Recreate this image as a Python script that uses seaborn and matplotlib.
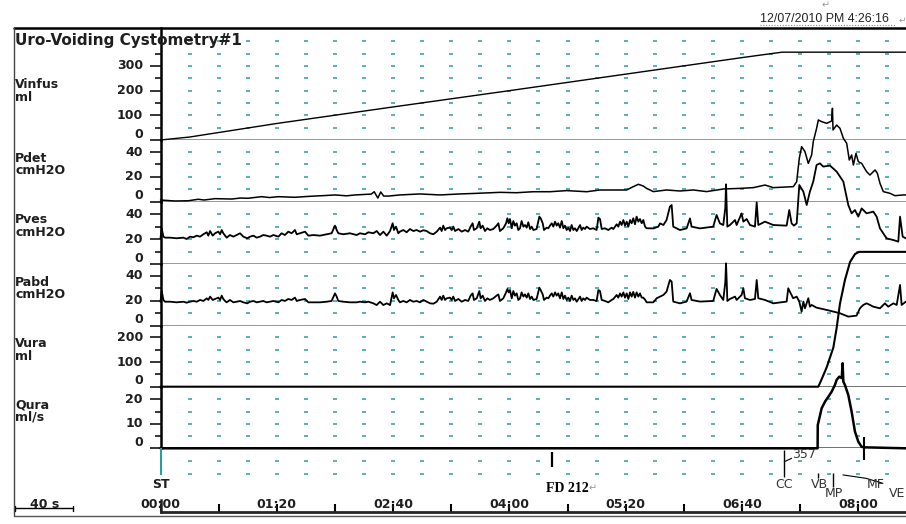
import matplotlib
matplotlib.use("Agg")
import matplotlib.pyplot as plt
from matplotlib.lines import Line2D
import pandas as pd
import seaborn as sns

# ---------------- data ----------------
# time in seconds
vinfus = [(0, 0), (20, 12), (80, 67), (160, 134), (240, 200), (320, 267),
          (400, 334), (427.5, 356), (512.8, 356)]

pdet = [(0, 1.2), (10, 0.4), (19, 0.6), (26, 1.8), (30, 1.2), (37.5, 2.3), (49, 2.0), (55, 2.8),
        (60, 2.6), (69.6, 3.9), (75, 3.2), (81, 3.9), (92.5, 3.4), (100, 4.0), (106, 4.4),
        (113, 4.8), (120, 5.3), (128, 4.6), (134, 5.3), (145, 6.0), (147, 7.9), (149.5, 2.8),
        (151.5, 7.7), (153.5, 4.4), (157, 4.4), (164.7, 5.3), (178.5, 6.1), (192.2, 5.3),
        (206, 6.1), (217.4, 6.6), (233.5, 7.4), (244.9, 7.1), (256.4, 7.9), (267.9, 7.9),
        (279.4, 8.8), (293.1, 7.9), (302.3, 9.3), (311.5, 9.3), (320.6, 9.3), (325.2, 12.0),
        (328.7, 13.9), (332.1, 12.5), (334.4, 10.6), (339, 8.0), (348.1, 9.3), (357.3, 8.5),
        (366.5, 9.3), (375.7, 8.0), (387.1, 10.1), (398.6, 10.6), (407.8, 11.2), (415.8, 13.3),
        (421.5, 11.2), (435.3, 12.0), (437.6, 16.0), (439.4, 34.9), (441, 44.3), (443.3, 40.3),
        (445.6, 30.8), (447.9, 37.6), (449, 48.3), (451.3, 59.1), (452.5, 65.9), (454.8, 64.5),
        (458.2, 63.2), (461.6, 65.0), (462.2, 75.3), (462.6, 57.8), (465.1, 61.8), (467.4, 59.1),
        (469.7, 51.1), (472, 47.0), (473.8, 33.5), (475.4, 37.6), (476.6, 29.5), (478.4, 38.9),
        (480, 32.2), (482.3, 30.8), (485.7, 24.1), (488, 21.4), (491.5, 25.5), (493.1, 22.8),
        (494.9, 14.7), (497.2, 8.0), (501.8, 6.6), (505.2, 4.7), (511, 5.3), (512.8, 5.3)]

pves = [(0, 20.8), (0.8, 28.8), (2.0, 22.1), (3.1, 21.3), (6.5, 21.3), (11.1, 20.8), (15.7, 21.3),
        (18.0, 20.2), (20.3, 22.1), (22.6, 21.6), (24.9, 22.9), (27.2, 22.1), (29.5, 24.0),
        (31.8, 25.6), (32.9, 22.9), (34.1, 26.6), (35.9, 22.9), (37.5, 24.8), (39.8, 26.1),
        (41.0, 24.0), (42.1, 27.4), (43.2, 24.8), (44.4, 22.9), (45.5, 21.3), (47.8, 23.4),
        (50.1, 22.1), (52.4, 23.4), (54.7, 24.8), (57.0, 22.1), (59.7, 20.8), (61.6, 22.1),
        (63.9, 22.9), (66.2, 21.3), (68.4, 22.1), (70.7, 23.4), (73.0, 22.9), (75.3, 22.1),
        (77.6, 23.4), (81.1, 22.1), (83.3, 24.8), (85.6, 23.4), (87.9, 26.1), (90.2, 24.8),
        (92.5, 27.4), (93.7, 24.0), (96.0, 24.8), (99.4, 26.1), (101.7, 22.9), (105.1, 23.4),
        (109.7, 22.9), (114.3, 24.0), (117.7, 24.8), (120.0, 30.9), (121.2, 27.4), (122.3, 24.8),
        (125.8, 24.0), (130.3, 24.8), (134.9, 23.4), (137.2, 24.8), (140.7, 24.0), (143.0, 25.6),
        (146.4, 24.8), (148.7, 26.6), (151.0, 23.4), (153.3, 26.1), (155.6, 22.9), (157.9, 26.6),
        (159.7, 32.8), (160.6, 27.4), (162.0, 30.1), (163.6, 24.8),
        (164.7, 26.1), (167.0, 27.4), (169.3, 25.6), (171.6, 28.2), (173.9, 26.6), (176.2, 27.4),
        (178.5, 26.1), (180.8, 27.2), (183.1, 26.6), (185.4, 24.8), (187.7, 24.0), (190.0, 26.1),
        (192.3, 29.3), (193.4, 26.6), (194.5, 30.9), (195.7, 27.4), (196.8, 28.8), (199.1, 29.3),
        (200.3, 27.4), (201.4, 30.1), (202.6, 26.6), (204.9, 28.2), (207.2, 26.1), (209.5, 27.4),
        (211.7, 26.1), (213.3, 30.1), (214.7, 32.8), (215.6, 27.4), (217.5, 28.8), (219.3, 34.1),
        (220.2, 28.8), (221.6, 30.9), (223.2, 26.6), (224.8, 28.8), (226.6, 27.4), (228.9, 28.2),
        (231.2, 30.9), (232.4, 32.8), (233.5, 26.6), (235.8, 28.8), (237.7, 32.8), (238.6, 36.8),
        (239.5, 32.8), (240.4, 36.2), (241.6, 28.8), (242.7, 34.6), (243.8, 30.9), (245.0, 32.8),
        (246.1, 27.4), (247.3, 28.8), (248.4, 34.6), (249.6, 30.1), (250.7, 31.4), (251.9, 29.3),
        (253.0, 33.6), (254.2, 28.2), (255.3, 30.1), (256.5, 27.4), (258.7, 28.2), (260.6, 38.1),
        (261.5, 36.8), (262.9, 32.8), (263.8, 27.4), (265.6, 29.3), (266.8, 28.8), (267.9, 30.9),
        (269.1, 32.8), (270.2, 30.1), (271.4, 34.1), (272.5, 30.9), (273.6, 32.8), (274.8, 29.3),
        (276.0, 34.6), (277.1, 28.8), (278.2, 30.9), (279.4, 27.4), (280.5, 29.3), (281.7, 26.6),
        (282.8, 31.4), (284.0, 27.4), (285.1, 28.8), (286.3, 26.6), (288.6, 31.4), (289.7, 27.4),
        (290.8, 29.3), (292.0, 28.2), (293.1, 30.1), (295.4, 28.2), (297.7, 28.8), (300.0, 27.4),
        (301.2, 37.3), (302.3, 36.2), (303.5, 28.2), (305.8, 28.8), (308.0, 27.4), (310.3, 29.3),
        (311.5, 28.2), (313.8, 32.0), (314.9, 30.1), (316.1, 34.1), (317.2, 31.4), (318.4, 35.4),
        (319.5, 30.9), (320.7, 34.1), (321.8, 30.1), (323.0, 35.4), (324.1, 32.8), (325.2, 36.8),
        (326.4, 32.0), (327.5, 38.1), (328.7, 34.1), (329.8, 36.2), (331.0, 32.8), (332.1, 35.4),
        (333.3, 30.1), (334.4, 28.8),
        (339, 28.7), (342.4, 30.1), (343.6, 32.7), (345.9, 31.4), (348.1, 35.4), (350.4, 46.1),
        (351.6, 47.4), (352.7, 30.1), (357.3, 27.4), (361.9, 28.7), (364.2, 36.7), (365.3, 30.1),
        (371.1, 28.7), (380.2, 30.1), (382.5, 39.4), (384.8, 32.7), (387.1, 31.4), (388.5, 45.0),
        (389, 63.9), (389.5, 45.0), (389.9, 30.1), (391.7, 31.4), (395.2, 35.4), (396.3, 31.4),
        (399.7, 40.7), (400.9, 34.1), (403.2, 36.2), (405.5, 31.4), (408.9, 30.1), (410.1, 49.5),
        (411.2, 31.4), (415.8, 34.1), (421.5, 31.4), (430.7, 30.9), (432.5, 43.4), (434.1, 32.7),
        (435.7, 30.9), (437.6, 32.7), (439.4, 63.4), (442.2, 58.1), (444.5, 47.4), (446.7, 58.1),
        (449, 66.1), (451.3, 79.4), (453.6, 80.7), (455.9, 78.1), (460.5, 78.9), (465.1, 74.1),
        (469.7, 66.1), (473.1, 47.4), (475.4, 40.7), (477.7, 43.4), (480, 38.1), (482.3, 44.7),
        (485.7, 40.7), (490.3, 42.1), (492.6, 38.1), (494.9, 28.7), (499.5, 20.7), (504.1, 19.4),
        (507.5, 18.1), (508.7, 38.1), (510.5, 22.1), (512.8, 20.7)]

pabd = [(0, 19.3), (0.8, 27.9), (2.0, 20.7), (3.1, 19.3), (6.5, 19.3), (11.1, 18.8), (15.7, 19.3),
        (18.0, 18.5), (20.3, 19.3), (22.6, 19.9), (24.9, 19.3), (27.2, 20.7), (29.5, 19.9),
        (31.8, 22.0), (32.9, 20.7), (34.1, 23.4), (35.9, 20.7), (37.5, 21.5), (39.8, 22.6),
        (41.0, 20.7), (42.1, 24.2), (43.2, 21.5), (44.4, 19.9), (45.5, 18.8), (47.8, 20.7),
        (50.1, 18.8), (52.4, 19.3), (54.7, 19.9), (57.0, 18.8), (59.7, 18.0), (61.6, 19.3),
        (63.9, 19.9), (66.2, 18.8), (68.4, 19.3), (70.7, 19.9), (73.0, 18.8), (75.3, 19.3),
        (77.6, 19.9), (81.1, 18.8), (83.3, 20.7), (85.6, 19.9), (87.9, 21.5), (90.2, 20.7),
        (92.5, 22.6), (93.7, 19.9), (96.0, 20.7), (99.4, 21.5), (101.7, 18.8), (105.1, 18.8),
        (109.7, 18.8), (114.3, 19.3), (117.7, 19.9), (120.0, 26.0), (121.2, 23.4), (122.3, 19.9),
        (125.8, 19.3), (130.3, 18.8), (134.9, 18.8), (137.2, 19.3), (140.7, 18.8), (143.0, 19.3),
        (146.4, 18.0), (148.7, 16.6), (151.0, 19.3), (153.3, 16.6), (155.6, 18.0), (157.9, 16.6),
        (159.7, 26.8), (160.6, 22.0), (162.0, 24.7), (163.6, 20.7),
        (164.7, 18.8), (167.0, 19.9), (169.3, 18.8), (171.6, 20.7), (173.9, 19.3), (176.2, 19.9),
        (178.5, 18.8), (180.8, 20.7), (183.1, 19.3), (185.4, 18.0), (187.7, 17.7), (190.0, 19.3),
        (192.3, 23.4), (193.4, 20.7), (194.5, 24.2), (195.7, 20.7), (196.8, 22.0), (199.1, 22.6),
        (200.3, 20.7), (201.4, 23.4), (202.6, 19.9), (204.9, 21.5), (207.2, 19.3), (209.5, 20.7),
        (211.7, 19.9), (213.3, 24.2), (214.7, 26.0), (215.6, 20.7), (217.5, 22.0), (219.3, 27.9),
        (220.2, 22.0), (221.6, 24.2), (223.2, 19.9), (224.8, 22.0), (226.6, 20.7), (228.9, 22.0),
        (231.2, 24.2), (232.4, 25.2), (233.5, 19.9), (235.8, 22.0), (237.7, 26.8), (238.6, 29.5),
        (239.5, 26.8), (240.4, 28.7), (241.6, 22.0), (242.7, 27.9), (243.8, 24.2), (245.0, 26.0),
        (246.1, 20.7), (247.3, 22.0), (248.4, 26.8), (249.6, 23.4), (250.7, 25.2), (251.9, 22.6),
        (253.0, 26.0), (254.2, 21.5), (255.3, 23.4), (256.5, 20.7), (258.7, 21.5), (260.6, 30.6),
        (261.5, 28.7), (262.9, 25.2), (263.8, 20.7), (265.6, 22.6), (266.8, 22.0), (267.9, 24.2),
        (269.1, 26.0), (270.2, 23.4), (271.4, 26.8), (272.5, 24.2), (273.6, 26.0), (274.8, 22.0),
        (276.0, 26.8), (277.1, 21.5), (278.2, 24.2), (279.4, 20.7), (280.5, 22.6), (281.7, 19.9),
        (282.8, 24.2), (284.0, 20.7), (285.1, 22.0), (286.3, 19.3), (288.6, 23.4), (289.7, 19.9),
        (290.8, 22.0), (292.0, 20.7), (293.1, 22.6), (295.4, 20.7), (297.7, 20.7), (300.0, 19.9),
        (301.2, 28.7), (302.3, 27.9), (303.5, 20.7), (305.8, 19.9), (308.0, 18.8), (310.3, 20.7),
        (311.5, 21.5), (313.8, 24.7), (314.9, 22.6), (316.1, 26.0), (317.2, 23.4), (318.4, 26.8),
        (319.5, 22.6), (320.7, 26.0), (321.8, 21.5), (323.0, 26.8), (324.1, 23.4), (325.2, 27.2),
        (326.4, 22.6), (327.5, 26.8), (328.7, 23.4), (329.8, 26.0), (331.0, 22.6), (332.1, 22.6),
        (333.3, 21.0), (334.4, 18.8),
        (339, 18.8), (341.3, 22.1), (343.6, 23.4), (345.9, 24.7), (348.1, 27.4), (350.4, 36.8),
        (351.6, 35.5), (352.7, 19.4), (357.3, 18.0), (361.9, 19.4), (364.2, 26.1), (365.3, 20.7),
        (371.1, 19.4), (380.2, 19.9), (382.5, 29.6), (384.8, 24.7), (387.1, 20.7), (388.5, 35.0),
        (389, 50.2), (389.5, 35.0), (389.9, 19.9), (391.7, 21.5), (395.2, 23.4), (396.3, 20.7),
        (399.7, 24.7), (400.9, 30.1), (402, 22.1), (405.5, 20.7), (408.9, 21.5), (410.1, 36.8),
        (411.2, 22.1), (415.8, 20.7), (421.5, 18.0), (430.7, 19.4), (431.8, 30.1), (432.9, 27.4),
        (435.2, 22.1), (437.6, 23.4), (439.4, 19.4), (441, 11.3), (442.2, 19.4), (443.3, 14.0),
        (445.6, 22.1), (446.7, 15.3), (447.9, 16.7), (451.3, 14.5), (458.2, 12.7), (467.4, 10.0),
        (473.1, 7.3), (478.8, 8.1), (481.1, 14.0), (483.4, 16.7), (485.7, 18.0), (488, 16.7),
        (490.3, 15.3), (494.9, 14.0), (498.3, 18.0), (500.6, 15.3), (504.1, 18.0), (506.4, 16.7),
        (508.7, 32.8), (509.8, 16.7), (512.8, 19.4)]

vura = [(0, 0), (452.5, 0), (455.5, 40), (458.2, 78), (460.5, 118), (462.8, 158), (465.1, 238),
        (467.4, 337), (470.8, 432), (474.3, 505), (477.7, 537), (480.5, 546), (512.8, 546)]

qura = [(0, 0), (452.0, 0), (452.1, 9.5), (454.8, 16.4), (457.1, 19.1), (459.4, 21.1), (461.7, 23.2),
        (463.9, 25.9), (465.1, 28.0), (466.9, 29.3), (468.6, 28.7), (469.2, 34.8), (469.7, 27.3),
        (470.8, 25.9), (473.1, 21.8), (475.4, 15.0), (477.7, 6.8), (480.0, 2.7), (482.3, 0.6),
        (483.9, 0.4), (512.8, 0)]

event_names = ["ST", "FD 212", "CC", "VB", "MP", "MF", "VE"]
event_times = [0, 269.1, 429.1, 452.3, 462.4, 469.4, 483.9]
cc_volume = "357"

time_ticks = list(range(0, 481, 40))
time_labels_at = list(range(0, 481, 80))
title = "Uro-Voiding Cystometry#1"
date_text = "12/07/2010 PM 4:26:16"

# ---------------- styling ----------------
T_END = 512.8
TEAL = "#2f9b9b"
GREY = "#4a4a4a"
INK = "#1e1e1e"

sns.set_style("white")
plt.rcParams["font.family"] = ["DejaVu Sans"]

W, H = 906, 524
fig = plt.figure(figsize=(W / 100, H / 100), dpi=100)
fig.patch.set_facecolor("white")


def fx(px):
    return px / W


def fy(py):
    return 1 - py / H


LEFT_PX = 160.5

channels = [
    dict(name="Vinfus", unit="ml", data=vinfus, top=28, bottom=140, ymax=454,
         major=[0, 100, 200, 300], minor=[50, 150, 250, 350],
         dots=[50, 100, 150, 200, 250, 300, 350, 400], base=TEAL, lw=1.0, ly=91),
    dict(name="Pdet", unit="cmH2O", data=pdet, top=140, bottom=201.5, ymax=49.7,
         major=[0, 20, 40], minor=[10, 30], dots=[10, 20, 30, 40], base=TEAL, lw=1.1, ly=164.3),
    dict(name="Pves", unit="cmH2O", data=pves, top=201.5, bottom=264.3, ymax=50.2,
         major=[0, 20, 40], minor=[10, 30], dots=[10, 20, 30, 40], base=TEAL, lw=1.3, ly=226),
    dict(name="Pabd", unit="cmH2O", data=pabd, top=264.3, bottom=325.7, ymax=49.4,
         major=[0, 20, 40], minor=[10, 30], dots=[10, 20, 30, 40], base=TEAL, lw=1.3, ly=288.5),
    dict(name="Vura", unit="ml", data=vura, top=325.7, bottom=386.7, ymax=247,
         major=[0, 100, 200], minor=[50, 150], dots=[50, 100, 150, 200], base=GREY, lw=1.5,
         ly=350),
    dict(name="Qura", unit="ml/s", data=qura, top=386.7, bottom=448.3, ymax=25.2,
         major=[0, 10, 20], minor=[5, 15], dots=[5, 10, 15, 20], base=GREY, lw=1.8, ly=411.2),
]

dot_times = list(range(20, 501, 20))
lab_kw = dict(fontsize=9, fontweight="bold", color=INK)

for ch in channels:
    ax = fig.add_axes([fx(LEFT_PX), fy(ch["bottom"]), fx(W) - fx(LEFT_PX),
                       fy(ch["top"]) - fy(ch["bottom"])])
    ax.patch.set_visible(False)
    ax.set_xlim(0, T_END)
    ax.set_ylim(0, ch["ymax"])
    for s in ["top", "right", "bottom"]:
        ax.spines[s].set_visible(False)
    ax.spines["left"].set_linewidth(1.8)
    ax.spines["left"].set_color("black")
    ax.set_xticks([])
    ax.set_yticks(ch["major"])
    ax.set_yticks(ch["minor"], minor=True)
    ax.tick_params(axis="y", which="major", length=8, width=1.1, color="black",
                   direction="out", labelleft=False, left=True)
    ax.tick_params(axis="y", which="minor", length=4, width=1.1, color="black",
                   direction="out", left=True)
    ax.axhline(0, color=ch["base"], lw=1.1, zorder=1)
    gx = [t for t in dot_times for _ in ch["dots"]]
    gy = [v for _ in dot_times for v in ch["dots"]]
    ax.scatter(gx, gy, marker="_", s=5, color=TEAL, linewidths=1.1, zorder=1.5)
    df = pd.DataFrame(ch["data"], columns=["t", "v"])
    sns.lineplot(data=df, x="t", y="v", ax=ax, color="black", lw=ch["lw"],
                 estimator=None, sort=False, legend=False, zorder=3)
    ax.lines[-1].set_clip_on(False)
    ax.set_xlabel("")
    ax.set_ylabel("")
    for v in ch["major"]:
        ax.annotate(str(v), xy=(0, v), xycoords=ax.get_yaxis_transform(),
                    xytext=(-17.5, 6 if v == 0 else 0), textcoords="offset pixels",
                    ha="right", va="center", annotation_clip=False, **lab_kw)
    fig.text(fx(15), fy(ch["ly"]), ch["name"] + "\n" + ch["unit"], ha="left", va="center",
             linespacing=0.95, **lab_kw)

# ---------------- event / time axis ----------------
axe = fig.add_axes([fx(LEFT_PX), fy(511.7), fx(W) - fx(LEFT_PX), fy(448.3) - fy(511.7)])
axe.patch.set_visible(False)
axe.set_xlim(0, T_END)
axe.set_ylim(-5, 0)
for s in ["top", "right"]:
    axe.spines[s].set_visible(False)
axe.spines["bottom"].set_linewidth(2.0)
axe.spines["left"].set_linewidth(1.8)
axe.spines["left"].set_bounds(-5, -4.08)
axe.set_yticks([])
axe.set_xticks(time_ticks)
axe.tick_params(axis="x", direction="in", length=6, width=1.5, color="black",
                labelbottom=False, bottom=True)
gx = [t for t in dot_times for _ in (1, 2)]
gy = [-v for _ in dot_times for v in (1, 2)]
axe.scatter(gx, gy, marker="_", s=5, color=TEAL, linewidths=1.1, zorder=1.5)
for t in time_labels_at:
    axe.text(t, -4.42, f"{t // 60:02d}:{t % 60:02d}", ha="center", va="center",
             fontsize=9, fontweight="bold", color=INK)

ev = dict(zip(event_names, event_times))
ev_font = dict(fontsize=9, color="#333333")
# ST
axe.vlines(ev["ST"], -2.1, 0, color=TEAL, lw=1.5, clip_on=False)
axe.text(ev["ST"], -2.82, "ST", ha="center", va="center", fontsize=9, fontweight="bold",
         color=INK)
# FD 212
axe.vlines(ev["FD 212"], -1.45, -0.27, color="black", lw=1.6)
axe.text(ev["FD 212"] - 4, -3.15, "FD 212", ha="left", va="center", fontsize=10,
         fontweight="bold", family=["Liberation Serif", "DejaVu Serif"], color="black")
axe.text(ev["FD 212"] + 25.5, -3.15, "\u21b5", ha="left", va="center", fontsize=7,
         color="#999999")
# CC + infused volume
axe.vlines(ev["CC"], -2.24, -0.13, color="black", lw=1.0)
axe.plot([ev["CC"], ev["CC"] + 5], [-1.06, -0.79], color="black", lw=0.8)
axe.text(ev["CC"] + 5.5, -0.45, cc_volume, ha="left", va="center", **ev_font)
axe.text(ev["CC"], -2.82, "CC", ha="center", va="center", **ev_font)
# VB
axe.vlines(ev["VB"], -2.37, -1.97, color="black", lw=1.0)
axe.text(ev["VB"] + 1.3, -2.82, "VB", ha="center", va="center", **ev_font)
# MP
axe.vlines(ev["MP"], -3.03, -1.95, color="black", lw=1.0)
axe.text(ev["MP"] + 0.7, -3.55, "MP", ha="center", va="center", **ev_font)
# MF (leader to label)
axe.plot([ev["MF"], ev["MF"] + 16, ev["MF"] + 27.5], [-2.10, -2.37, -2.76], color="black",
         lw=0.8)
axe.text(ev["MF"] + 22.3, -2.82, "MF", ha="center", va="center", **ev_font)
# VE
axe.vlines(ev["VE"], -0.92, 0.91, color="black", lw=1.5, clip_on=False)
axe.text(ev["VE"] + 22.7, -3.55, "VE", ha="center", va="center", clip_on=False, **ev_font)

# 40 s scale bar (left of the time axis, in time units)
SCALE_S = 40
sb0 = -100
axe.plot([sb0, sb0 + SCALE_S], [-4.73, -4.73], color="black", lw=1.0, clip_on=False)
axe.plot([sb0, sb0], [-4.55, -4.95], color="black", lw=1.0, clip_on=False)
axe.plot([sb0 + SCALE_S, sb0 + SCALE_S], [-4.55, -4.95], color="black", lw=1.0, clip_on=False)
axe.text(sb0 + SCALE_S / 2, -4.42, f"{SCALE_S} s", ha="center", va="center", clip_on=False,
         fontsize=9, fontweight="bold", color=INK)

# ---------------- frame, title, header ----------------
fig.add_artist(Line2D([fx(14), 1], [fy(28), fy(28)], transform=fig.transFigure,
                      color="black", lw=1.8))
fig.add_artist(Line2D([fx(14), fx(14)], [fy(28), fy(516)], transform=fig.transFigure,
                      color="#444444", lw=1.0))
fig.add_artist(Line2D([fx(14), 1], [fy(516), fy(516)], transform=fig.transFigure,
                      color="#555555", lw=1.0))
fig.text(fx(15), fy(40), title, ha="left", va="center", fontsize=11, fontweight="bold",
         color=INK)
fig.text(fx(760), fy(19), date_text, ha="left", va="center", fontsize=8.9,
         family=["Liberation Sans", "DejaVu Sans"], color="#222222")
fig.add_artist(Line2D([fx(760), fx(895)], [fy(25), fy(25)], transform=fig.transFigure,
                      color="#cc55cc", lw=0.8, ls=(0, (1, 1.5))))
fig.text(fx(898.5), fy(20), "\u21b5", ha="left", va="center", fontsize=6.5, color="#999999")
fig.text(fx(826), fy(5), "\u21b5", ha="center", va="center", fontsize=7, color="#999999")

fig.savefig("out.png", dpi=100, facecolor="white")
